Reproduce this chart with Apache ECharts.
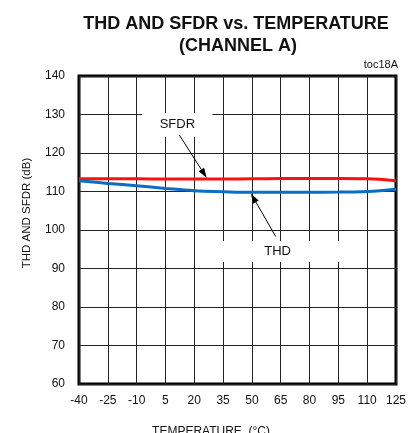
<!DOCTYPE html>
<html>
<head>
<meta charset="utf-8">
<script src="https://cdn.jsdelivr.net/npm/echarts@6/dist/echarts.min.js"></script>
<style>
html,body{margin:0;padding:0;background:#fff;}
#c{width:409px;height:433px;}
</style>
</head>
<body>
<div id="c"></div>
<script>
// ---- data ----
var temperatures = [-40, -25, -10, 5, 20, 35, 50, 65, 80, 95, 110, 125];
var sfdr = [113.3, 113.3, 113.3, 113.25, 113.25, 113.25, 113.3, 113.35, 113.35, 113.35, 113.3, 112.8];
var thd  = [112.8, 112.1, 111.5, 110.8, 110.2, 109.95, 109.8, 109.8, 109.8, 109.85, 110.0, 110.6];
var yTicks = [60, 70, 80, 90, 100, 110, 120, 130, 140];
var titleLines = ['THD AND SFDR vs. TEMPERATURE', '(CHANNEL A)'];
var xName = 'TEMPERATURE  (°C)';
var yName = 'THD AND SFDR (dB)';
var tocLabel = 'toc18A';
// annotation anchors in data units
var sfdrNote = {text: 'SFDR', label: [11.2, 127.3], from: [12.2, 124.7], to: [26.5, 113.5]};
var thdNote  = {text: 'THD',  label: [63.4, 94.4],  from: [62.4, 98.3],  to: [49.5, 109.5]};

function pairs(xs, ys){ return xs.map(function(x,i){ return [x, ys[i]]; }); }

var FONT = '"Liberation Sans", Arial, sans-serif';
var chart = echarts.init(document.getElementById('c'), null, {renderer:'canvas'});

var option = {
  backgroundColor: '#fff',
  animation: false,
  grid: {left: 79, top: 76, width: 319, height: 308, show: true, borderColor: '#000', borderWidth: 3, backgroundColor: 'transparent'},
  xAxis: {
    type: 'value', min: temperatures[0], max: temperatures[temperatures.length-1], interval: 15,
    axisLine: {show: false}, axisTick: {show: false},
    axisLabel: {color: '#111', fontSize: 12, fontFamily: FONT, margin: 11},
    splitLine: {show: true, lineStyle: {color: '#222', width: 1}}
  },
  yAxis: {
    type: 'value', min: yTicks[0], max: yTicks[yTicks.length-1], interval: 10,
    axisLine: {show: false}, axisTick: {show: false},
    axisLabel: {color: '#111', fontSize: 12, fontFamily: FONT, margin: 14},
    splitLine: {show: true, lineStyle: {color: '#222', width: 1}}
  },
  series: [
    {type: 'line', name: 'SFDR', data: pairs(temperatures, sfdr), smooth: 0.4, showSymbol: false,
     lineStyle: {color: '#ff1010', width: 3}, z: 3},
    {type: 'line', name: 'THD', data: pairs(temperatures, thd), smooth: 0.4, showSymbol: false,
     lineStyle: {color: '#0a6fc4', width: 3}, z: 4}
  ]
};
chart.setOption(option);

function px(p){ return chart.convertToPixel({gridIndex: 0}, p); }

function arrow(from, to){
  var a = px(from), b = px(to);
  var dx = b[0]-a[0], dy = b[1]-a[1], L = Math.sqrt(dx*dx+dy*dy);
  var ux = dx/L, uy = dy/L, hl = 10, hw = 3.2;
  var bx = b[0]-ux*hl, by = b[1]-uy*hl;
  return [
    {type:'line', z: 50, shape:{x1:a[0], y1:a[1], x2:bx, y2:by}, style:{stroke:'#000', lineWidth:1}},
    {type:'polygon', z: 50, shape:{points:[[b[0],b[1]],[bx-uy*hw, by+ux*hw],[bx+uy*hw, by-ux*hw]]}, style:{fill:'#000'}}
  ];
}
function noteBox(note, w, h){
  var c = px(note.label);
  return [
    {type:'rect', z: 40, shape:{x:c[0]-w/2, y:c[1]-h/2, width:w, height:h}, style:{fill:'#fff'}},
    {type:'text', z: 45, x:c[0], y:c[1], style:{text:note.text, fill:'#111', font:'13px ' + FONT, textAlign:'center', textVerticalAlign:'middle'}}
  ];
}

var g = [];
g.push({type:'text', x: 236, y: 24, style:{text: titleLines[0], fill:'#111', font:'bold 18px ' + FONT, textAlign:'center', textVerticalAlign:'middle'}});
g.push({type:'text', x: 238, y: 46, style:{text: titleLines[1], fill:'#111', font:'bold 18px ' + FONT, textAlign:'center', textVerticalAlign:'middle'}});
g.push({type:'text', x: 398, y: 65, style:{text: tocLabel, fill:'#111', font:'11px ' + FONT, textAlign:'right', textVerticalAlign:'middle'}});
g.push({type:'text', x: 211, y: 426, style:{text: xName, fill:'#111', font:'12px ' + FONT, textAlign:'center', textVerticalAlign:'top'}});
g.push({type:'text', x: 27, y: 213, rotation: Math.PI/2, style:{text: yName, fill:'#111', font:'11.5px ' + FONT, textAlign:'center', textVerticalAlign:'middle'}});
g = g.concat(noteBox(sfdrNote, 70, 24), noteBox(thdNote, 129, 21), arrow(sfdrNote.from, sfdrNote.to), arrow(thdNote.from, thdNote.to));
chart.setOption({graphic: g});
</script>
</body>
</html>
